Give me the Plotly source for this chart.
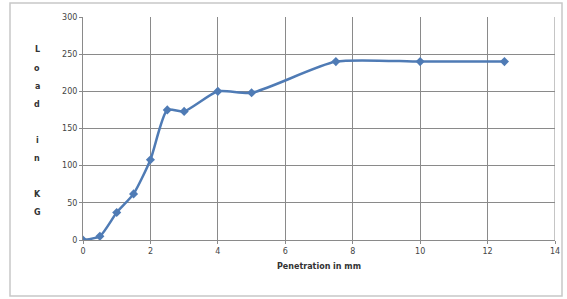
import plotly.graph_objects as go

penetration_mm = [0, 0.5, 1, 1.5, 2, 2.5, 3, 4, 5, 7.5, 10, 12.5]
load_kg = [0, 5, 37, 62, 108, 175, 173, 200, 198, 240, 240, 240]
x_ticks = [0, 2, 4, 6, 8, 10, 12, 14]
y_ticks = [0, 50, 100, 150, 200, 250, 300]
y_title_letters = ["L", "o", "a", "d", "", "i", "n", "", "K", "G"]

fig = go.Figure()
fig.add_trace(go.Scatter(
    x=penetration_mm, y=load_kg, mode="lines+markers",
    line=dict(color="#4f7bb5", width=2.5, shape="spline", smoothing=0.6),
    marker=dict(symbol="diamond", size=7, color="#4f7bb5"),
    showlegend=False,
))

W, H = 567, 299
ml, mr, mt, mb = 83, 12, 17, 59
pw, ph = W - ml - mr, H - mt - mb

fig.update_layout(
    width=W, height=H, autosize=False,
    margin=dict(l=ml, r=mr, t=mt, b=mb),
    paper_bgcolor="white", plot_bgcolor="white",
    font=dict(family="DejaVu Sans", size=8, color="#444"),
    xaxis=dict(range=[0, 14], tickvals=x_ticks, showgrid=True, gridcolor="#8a8a8a",
               gridwidth=1, zeroline=False, showline=True, linecolor="#8a8a8a",
               ticks="outside", ticklen=3, tickcolor="#8a8a8a", automargin=False,
               tickfont=dict(size=8, color="#444"),
               title=dict(text="<b>Penetration in mm</b>", font=dict(size=8, color="#333"), standoff=8)),
    yaxis=dict(range=[0, 300], tickvals=y_ticks, showgrid=True, gridcolor="#8a8a8a",
               gridwidth=1, zeroline=False, showline=True, linecolor="#8a8a8a",
               ticks="outside", ticklen=3, tickcolor="#8a8a8a", automargin=False,
               tickfont=dict(size=8, color="#444")),
)
fig.add_shape(type="line", xref="x", yref="y", x0=14, x1=14, y0=0, y1=300,
              line=dict(color="#8a8a8a", width=1))

# outer chart border
fig.add_shape(type="rect", xref="paper", yref="paper",
              x0=(10 - ml) / pw, x1=(562 - ml) / pw,
              y0=(H - mb - 296) / ph, y1=(H - mb - 3) / ph,
              line=dict(color="#c8c8c8", width=1.5))

# stacked vertical y-axis title
for i, ch in enumerate(y_title_letters):
    if not ch:
        continue
    ypix = 50 + 18 * i
    fig.add_annotation(text="<b>" + ch + "</b>", xref="paper", yref="paper",
                       x=(37 - ml) / pw, y=(H - mb - ypix) / ph,
                       showarrow=False, font=dict(size=8, color="#333"),
                       xanchor="center", yanchor="middle")

fig.write_html(
    "out.html",
    config={"displayModeBar": False, "responsive": False},
    post_script="document.body.style.margin='0';document.body.style.overflow='hidden';",
)
